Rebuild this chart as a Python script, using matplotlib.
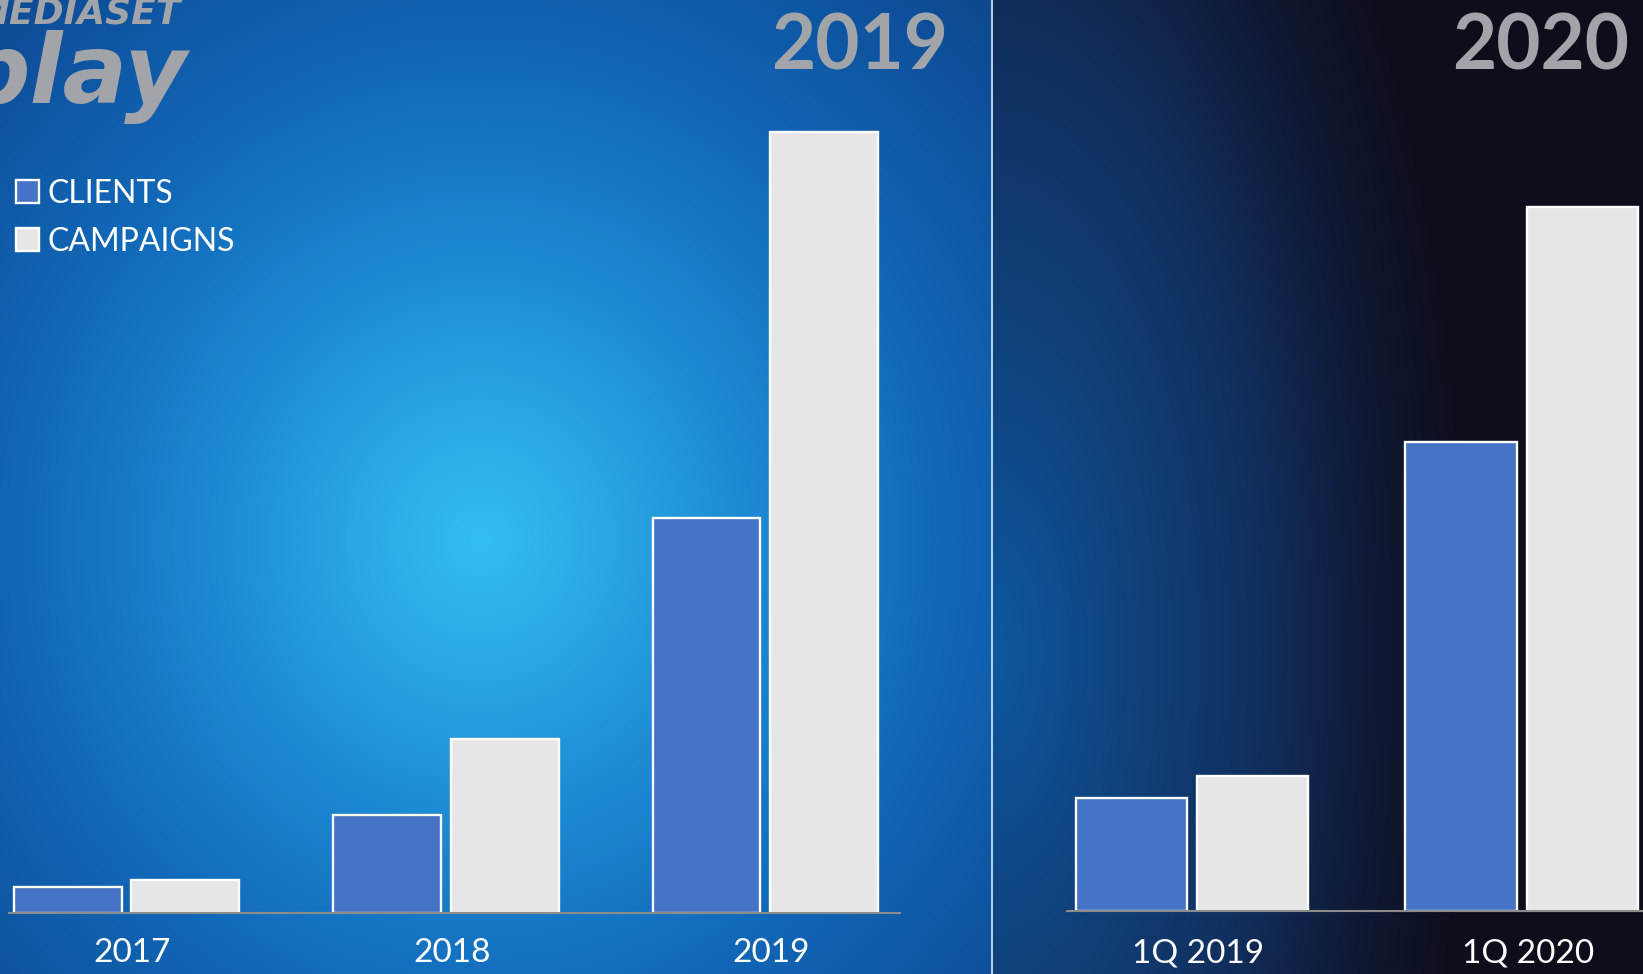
import numpy as np
import matplotlib
matplotlib.use("Agg")
import matplotlib.pyplot as plt
from matplotlib.transforms import ScaledTranslation

# ---------------- data ----------------
years = ["2017", "2018", "2019"]
clients_year = [26, 98, 395]
campaigns_year = [33, 174, 781]

quarters = ["1Q 2019", "1Q 2020"]
clients_q = [113, 469]
campaigns_q = [135, 704]

legend_labels = ["CLIENTS", "CAMPAIGNS"]
panel_titles = ["2019", "2020"]

# ---------------- style ----------------
W, H = 1643, 974
DPI = 100
C_CLIENTS = "#4472c4"
C_CAMP = "#e6e6e6"
TITLE_GRAY = "#a1a4a8"
FONT = ["Lato", "DejaVu Sans"]

plt.rcParams["font.family"] = FONT

fig = plt.figure(figsize=(W / DPI, H / DPI), dpi=DPI)


def fx(x):
    return x / W


def fy(y):
    return 1 - y / H


# ---------------- background ----------------
yy, xx = np.mgrid[0:H, 0:W].astype(float)

# left: radial glow
d = np.sqrt((xx - 480) ** 2 + ((yy - 540) / 1.05) ** 2)
stops_d = [0, 120, 280, 450, 650, 850]
stops_c = np.array([(52, 190, 240), (42, 168, 228), (28, 135, 210),
                    (18, 105, 185), (14, 80, 155), (12, 60, 120)], float)
left = np.stack([np.interp(d, stops_d, stops_c[:, k]) for k in range(3)], -1)

# right: glow from divider fading to near black
d2 = np.sqrt(((xx - 992) / 480) ** 2 + ((yy - 650) / 1100) ** 2)
stops_d2 = [0, 0.3, 0.55, 0.8, 1.0]
stops_c2 = np.array([(13, 88, 160), (16, 65, 122), (17, 48, 95),
                     (15, 25, 52), (14, 13, 28)], float)
right = np.stack([np.interp(d2, stops_d2, stops_c2[:, k]) for k in range(3)], -1)

mask = (xx < 992)[..., None]
img = np.where(mask, left, right) / 255.0

bg = fig.add_axes([0, 0, 1, 1], zorder=0)
bg.imshow(img, extent=(0, W, H, 0), aspect="auto", interpolation="bilinear")
bg.set_xlim(0, W)
bg.set_ylim(H, 0)
bg.axis("off")
bg.plot([991.5, 991.5], [0, H], color="#c6dff0", lw=1.3)

# ---------------- axes ----------------
def make_ax(x0, x1, base):
    ax = fig.add_axes([fx(x0), fy(base), fx(x1) - fx(x0), base / H], zorder=2)
    ax.set_facecolor("none")
    for s in ["top", "left", "right"]:
        ax.spines[s].set_visible(False)
    ax.spines["bottom"].set_color("#8c8c8c")
    ax.spines["bottom"].set_linewidth(1.5)
    ax.set_yticks([])
    ax.set_ylim(0, base)
    return ax


bw, off = 0.338, 0.184

# left panel
axL = make_ax(9, 900, 913)
xL = np.arange(len(years))
b1 = axL.bar(xL - off, clients_year, bw, color=C_CLIENTS, edgecolor="white",
             linewidth=1.7, label=legend_labels[0])
b2 = axL.bar(xL + off, campaigns_year, bw, color=C_CAMP, edgecolor="white",
             linewidth=1.7, label=legend_labels[1])
axL.set_xlim(-0.368, 2.422)
axL.set_xticks(xL, years)

# right panel
axR = make_ax(1067, 1643, 911)
xR = np.arange(len(quarters))
axR.bar(xR - off, clients_q, bw, color=C_CLIENTS, edgecolor="white", linewidth=1.7)
axR.bar(xR + off, campaigns_q, bw, color=C_CAMP, edgecolor="white", linewidth=1.7)
axR.set_xlim(-0.379, 1.367)
axR.set_xticks(xR, quarters)

for ax, pad in ((axL, 18), (axR, 20)):
    ax.tick_params(axis="x", length=0, pad=pad, labelsize=24, labelcolor="white")
    for lab in ax.get_xticklabels():
        lab.set_transform(lab.get_transform() + ScaledTranslation(6 / DPI, 0, fig.dpi_scale_trans))

# legend
leg = axL.legend(handles=[b1, b2], loc="upper left",
                 bbox_to_anchor=(fx(16), fy(179)), bbox_transform=fig.transFigure,
                 frameon=False, fontsize=23, handlelength=0.72, handleheight=0.72,
                 handletextpad=0.28, labelspacing=0.56, borderpad=0, borderaxespad=0)
for t in leg.get_texts():
    t.set_color("white")

# titles
fig.text(fx(948), fy(69), panel_titles[0], ha="right", va="baseline",
         fontsize=55, fontweight="bold", color=TITLE_GRAY, zorder=3)
fig.text(fx(1629), fy(69), panel_titles[1], ha="right", va="baseline",
         fontsize=55, fontweight="bold", color=TITLE_GRAY, zorder=3)

# logo (partially cropped at the top-left corner, as in the original slide)
LOGO_FONT = ["DejaVu Sans"]
fig.text(fx(181), fy(23), "MEDIASET", ha="right", va="baseline", fontsize=26,
         fontweight="bold", fontstyle="oblique", color=TITLE_GRAY, family=LOGO_FONT, zorder=3)
fig.text(fx(188), fy(103), "play", ha="right", va="baseline", fontsize=69,
         fontweight="bold", fontstyle="oblique", color=TITLE_GRAY, family=LOGO_FONT, zorder=3)

fig.savefig("out.png", dpi=DPI)
